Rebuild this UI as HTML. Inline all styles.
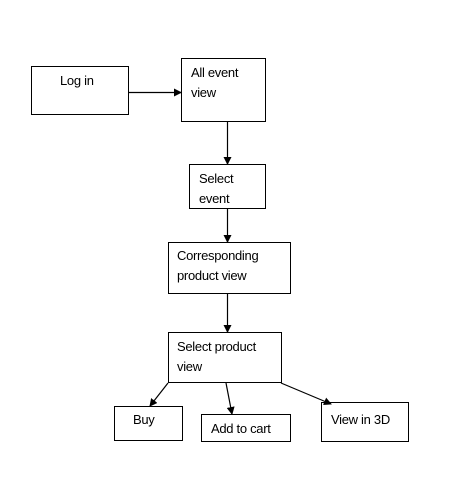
<!DOCTYPE html>
<html><head><style>
body{margin:0;background:#fff;width:454px;height:488px;overflow:hidden}
svg text{font-family:"Liberation Sans",sans-serif;font-size:13px;letter-spacing:-0.3px;fill:#000}
</style></head><body>
<svg width="454" height="488" viewBox="0 0 454 488">
<defs><marker id="a" markerWidth="8" markerHeight="8" refX="7" refY="4" orient="auto" markerUnits="userSpaceOnUse"><path d="M0,0 L8,4 L0,8z" fill="#000"/></marker></defs>
<g fill="#fff" stroke="#000" stroke-width="1">
<rect x="31.5" y="66.5" width="97" height="48"/>
<rect x="181.5" y="58.5" width="84" height="63"/>
<rect x="189.5" y="164.5" width="76" height="44"/>
<rect x="168.5" y="242.5" width="122" height="51"/>
<rect x="168.5" y="332.5" width="113" height="50"/>
<rect x="114.5" y="406.5" width="68" height="34"/>
<rect x="201.5" y="414.5" width="89" height="27"/>
<rect x="321.5" y="402.5" width="87" height="39"/>
</g>
<g stroke="#000" stroke-width="1.2" marker-end="url(#a)">
<line x1="129" y1="92.5" x2="181" y2="92.5"/>
<line x1="227.5" y1="122" x2="227.5" y2="164"/>
<line x1="227.5" y1="209" x2="227.5" y2="242"/>
<line x1="227.5" y1="294" x2="227.5" y2="332"/>
<line x1="168" y1="383" x2="150" y2="406"/>
<line x1="226" y1="383" x2="232" y2="414"/>
<line x1="281" y1="383" x2="331" y2="404"/>
</g>
<text x="60" y="85">Log in</text>
<text x="191" y="77">All event</text>
<text x="191" y="97">view</text>
<text x="199" y="183">Select</text>
<text x="199" y="203">event</text>
<text x="177" y="260">Corresponding</text>
<text x="177" y="280">product view</text>
<text x="177" y="351">Select product</text>
<text x="177" y="371">view</text>
<text x="133" y="424">Buy</text>
<text x="211" y="433">Add to cart</text>
<text x="331" y="424">View in 3D</text>
</svg>
</body></html>
